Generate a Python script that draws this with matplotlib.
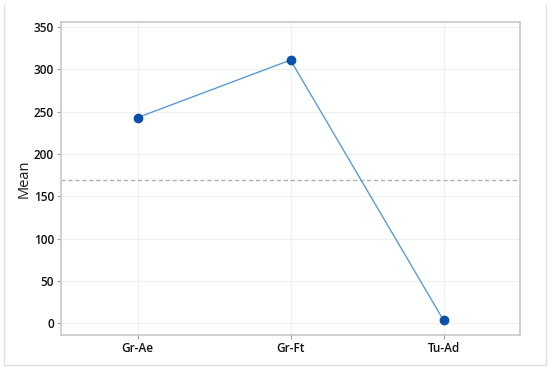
import matplotlib
matplotlib.use("Agg")
import matplotlib.pyplot as plt
from matplotlib.lines import Line2D

plt.rcParams['font.family'] = ['Open Sans', 'DejaVu Sans']

groups = ["Gr-Ae", "Gr-Ft", "Tu-Ad"]
means = [243, 311, 3.5]
grand_mean = 169
yticks = [0, 50, 100, 150, 200, 250, 300, 350]

fig = plt.figure(figsize=(5.5, 3.7), dpi=100)
# outer frame: left, bottom, right (no top edge)
fx0, fx1 = 3.5 / 550, 545.5 / 550
fy0, fy1 = 1 - 364.5 / 370, 1 - 5 / 370
fig.lines.append(Line2D([fx0, fx0, fx1, fx1], [fy1, fy0, fy0, fy1], transform=fig.transFigure,
                        color="#e0e0e0", linewidth=1.0))
ax = fig.add_axes([61 / 550, 35 / 370, 459 / 550, 313 / 370])

x = list(range(len(groups)))
ax.plot(x, means, color="#5b9bd5", linewidth=1.0, zorder=3)
ax.plot(x, means, "o", color="#0a50a8", markersize=6, zorder=4)
ax.axhline(grand_mean, color="#b0b0b0", linestyle=(0, (3, 2)), linewidth=1.0, zorder=2)

ax.set_xlim(-0.5, 2.5)
ax.set_ylim(-14, 356)
ax.set_xticks(x)
ax.set_xticklabels(groups)
ax.set_yticks(yticks)
ax.grid(True, color="#f0f0f0", linewidth=0.8, zorder=0)
ax.set_axisbelow(True)
for s in ax.spines.values():
    s.set_color("#c8c8c8")
    s.set_linewidth(1.2)
ax.tick_params(colors="#a0a0a0", labelcolor="#111111", labelsize=8.5, length=3, pad=2)
for lbl in ax.get_xticklabels() + ax.get_yticklabels():
    lbl.set_fontweight("semibold")
ax.set_ylabel("Mean", fontsize=10.5, color="#1a1a1a")
ax.yaxis.set_label_coords(-0.064, 0.5)

fig.savefig("out.png", dpi=100)
